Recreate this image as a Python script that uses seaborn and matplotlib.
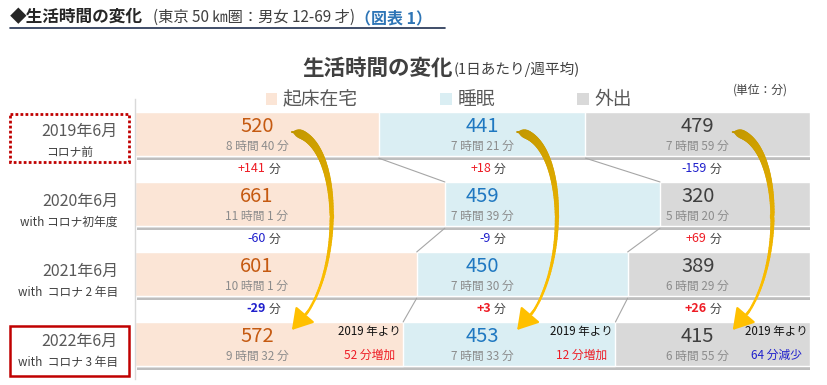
import matplotlib.pyplot as plt
import matplotlib.colors as mcolors
import matplotlib.patheffects as pe
import numpy as np
import pandas as pd
import seaborn as sns
from matplotlib.collections import LineCollection
from matplotlib.lines import Line2D
from matplotlib.patches import Patch, Rectangle
from matplotlib.transforms import blended_transform_factory

# Data: minutes per day (weekly average), Tokyo 50km area, 12-69 y.o.
periods = ["2019年6月", "2020年6月", "2021年6月", "2022年6月"]
period_notes = ["コロナ前", "with コロナ初年度", "with  コロナ 2 年目", "with  コロナ 3 年目"]
categories = ["起床在宅", "睡眠", "外出"]
awake_home = [520, 661, 601, 572]
sleep_min = [441, 459, 450, 453]
outside = [479, 320, 389, 415]

bar_colors = ["#FBE5D6", "#DAEEF3", "#D9D9D9"]
num_colors = ["#C55A11", "#1F78C1", "#3F3F3F"]
RED, BLUE = "#EE1C25", "#1F1FCC"

sns.set_theme(style="white")
plt.rcParams["font.family"] = ["Noto Sans CJK JP", "DejaVu Sans"]

df = pd.DataFrame({"period": periods, "起床在宅": awake_home, "睡眠": sleep_min, "外出": outside})
df["c1"] = df["起床在宅"]
df["c2"] = df["c1"] + df["睡眠"]
df["c3"] = df["c2"] + df["外出"]
cum_keys = ["c1", "c2", "c3"]

fig = plt.figure(figsize=(8.27, 3.85), dpi=100)
fig.patch.set_facecolor("white")
ax = fig.add_axes([135 / 827, 1 - 379 / 385, 675 / 827, 280 / 385])

px_x = 1440 / 675  # minutes per pixel
px_y = 1 / 70      # rows per pixel
bh = 0.63

# stacked bars: draw totals first, then overlay the partial sums
sns.barplot(data=df, x="c3", y="period", color=bar_colors[2], saturation=1,
            width=bh, errorbar=None, ax=ax)
for p in ax.patches:
    p.set_path_effects([pe.SimplePatchShadow(offset=(1.5, -2.5), shadow_rgbFace="#7F7F7F", alpha=0.5),
                        pe.Normal()])
sns.barplot(data=df, x="c2", y="period", color=bar_colors[1], saturation=1,
            width=bh, errorbar=None, ax=ax)
sns.barplot(data=df, x="c1", y="period", color=bar_colors[0], saturation=1,
            width=bh, errorbar=None, ax=ax)

ax.set(xlabel="", ylabel="", xticks=[], yticks=[])
for s in ["top", "right", "bottom"]:
    ax.spines[s].set_visible(False)
ax.spines["left"].set_color("#D9D9D9")
ax.spines["left"].set_linewidth(1)

# thin lines joining the boundaries between rows
for i in range(len(df) - 1):
    for key in ["c1", "c2"]:
        ax.plot([df.loc[i, key], df.loc[i + 1, key]], [i + bh / 2 + 0.03, i + 1 - bh / 2],
                color="#A6A6A6", lw=0.8, zorder=1)

# label columns sit at the centres of the 2019 segments
cols = [df.loc[0, k] - df.loc[0, c] / 2 for k, c in zip(cum_keys, categories)]

for i in range(len(df)):
    for j, cat in enumerate(categories):
        v = int(df.loc[i, cat])
        ax.text(cols[j], i - 0.1, str(v), ha="center", va="center", fontsize=14.5, color=num_colors[j])
        ax.text(cols[j], i + 0.175, f"{v // 60} 時間 {v % 60} 分", ha="center", va="center",
                fontsize=8.5, color="#8C8C8C")

# change between consecutive years
for i in range(len(df) - 1):
    for j, cat in enumerate(categories):
        d = int(df.loc[i + 1, cat] - df.loc[i, cat])
        ax.text(cols[j] + 9 * px_x, i + 0.5, f"{d:+d}", ha="right", va="center", fontsize=9,
                color=RED if d > 0 else BLUE, weight="bold" if i == len(df) - 2 else "normal")
        ax.text(cols[j] + 12 * px_x, i + 0.5, "分", ha="left", va="center", fontsize=8.5, color="#404040")

# change since 2019 in the last row
last = len(df) - 1
for j, (key, cat) in enumerate(zip(cum_keys, categories)):
    x = df.loc[last, key] - 34 * px_x
    d = int(df.loc[last, cat] - df.loc[0, cat])
    ax.text(x, last - 0.18, "2019 年より", ha="center", va="center", fontsize=8.3, color="#111111")
    ax.text(x, last + 0.165, f"{abs(d)} 分{'増加' if d > 0 else '減少'}", ha="center", va="center",
            fontsize=8.5, color=RED if d > 0 else BLUE)

# period labels on the left
trans = blended_transform_factory(fig.transFigure, ax.transData)
for i in range(len(df)):
    ax.text(118 / 827, i - 0.03, periods[i], transform=trans, ha="right", va="center",
            fontsize=11.5, color="#595959")
    if i == 0:
        ax.text(70 / 827, i + 0.26, period_notes[i], transform=trans, ha="center", va="center",
                fontsize=8.5, color="#404040")
    else:
        ax.text(118 / 827, i + 0.26, period_notes[i], transform=trans, ha="right", va="center",
                fontsize=8.5, color="#404040")

fig.add_artist(Rectangle((10 / 827, -0.286), 119 / 827, 0.686, transform=trans, fill=False,
                         ec="#C00000", lw=2, ls=(0, (1, 0.8)), clip_on=False))
fig.add_artist(Rectangle((10 / 827, last - 0.264), 119 / 827, 0.728, transform=trans, fill=False,
                         ec="#C00000", lw=1.8, clip_on=False))


def gold_arrow(x_start, y_start, y_end):
    bulge = 53 * px_x
    p0 = np.array([x_start, y_start])
    p1 = np.array([x_start + bulge, y_start + 0.05])
    p2 = np.array([x_start + bulge, y_end - 0.6])
    p3 = np.array([x_start, y_end])
    t = np.linspace(0, 1, 90)[:, None]
    pts = (1 - t) ** 3 * p0 + 3 * (1 - t) ** 2 * t * p1 + 3 * (1 - t) * t ** 2 * p2 + t ** 3 * p3
    n = int(len(pts) * 0.9)
    segs = np.stack([pts[:n - 1], pts[1:n]], axis=1)
    tt = t[:n - 1, 0]
    widths = (1.6 + 5.5 * (1 - tt) ** 2) * np.clip(tt / 0.05, 0.2, 1)
    c0 = np.array(mcolors.to_rgb("#C09600"))
    c1 = np.array(mcolors.to_rgb("#FFC000"))
    colors = c0 + (c1 - c0) * np.clip(tt / 0.8, 0, 1)[:, None]
    ax.add_collection(LineCollection(segs, linewidths=widths, colors=colors, capstyle="round", zorder=5))
    ax.annotate("", xy=p3, xytext=pts[n - 3],
                arrowprops=dict(arrowstyle="-|>,head_length=0.9,head_width=0.55", mutation_scale=14,
                                color="#FFC000", lw=1.6, shrinkA=0, shrinkB=0), zorder=6)


for j in range(len(categories)):
    gold_arrow(cols[j] + 35 * px_x, -2 * px_y, last - 14 * px_y)

ax.set_xlim(0, 1440)
ax.set_ylim(len(df) - 0.5, -0.5)

# legend
handles = [Patch(fc=c, ec="none") for c in bar_colors]
fig.legend(handles, categories, loc="center left", bbox_to_anchor=(266 / 827, 1 - 100 / 385), ncol=3,
           frameon=False, fontsize=13.5, handlelength=0.6, handleheight=0.6, handletextpad=0.3,
           columnspacing=4.4, borderpad=0, borderaxespad=0, labelcolor="#595959")
fig.text(760 / 827, 1 - 90 / 385, "(単位：分)", ha="center", va="center", fontsize=8.5, color="#404040")

# chart title
t1 = fig.text(302 / 827, 1 - 68 / 385, "生活時間の変化", fontsize=15.5, weight="bold", color="#404040",
              va="center", ha="left")
ax.annotate("(1日あたり/週平均)", xy=(1, 0), xycoords=t1, xytext=(1, 1), textcoords="offset points",
            va="bottom", ha="left", fontsize=10.5, color="#404040", annotation_clip=False)

# page header
h1 = fig.text(10 / 827, 1 - 17 / 385, "◆生活時間の変化", fontsize=12, weight="bold", color="#262626",
              va="center", ha="left")
h2 = ax.annotate("(東京 50 ㎞圏：男女 12-69 才)", xy=(1, 0), xycoords=h1, xytext=(7, 0),
                 textcoords="offset points", va="bottom", ha="left", fontsize=11, color="#404040",
                 annotation_clip=False)
ax.annotate("（図表 1）", xy=(1, 0), xycoords=h2, xytext=(0, 0), textcoords="offset points",
            va="bottom", ha="left", fontsize=11.5, weight="bold", color="#2E75B6", annotation_clip=False)
fig.add_artist(Line2D([10 / 827, 445 / 827], [1 - 27.5 / 385] * 2, color="#1F2F4F", lw=1.2))

fig.savefig("out.png", dpi=100)
